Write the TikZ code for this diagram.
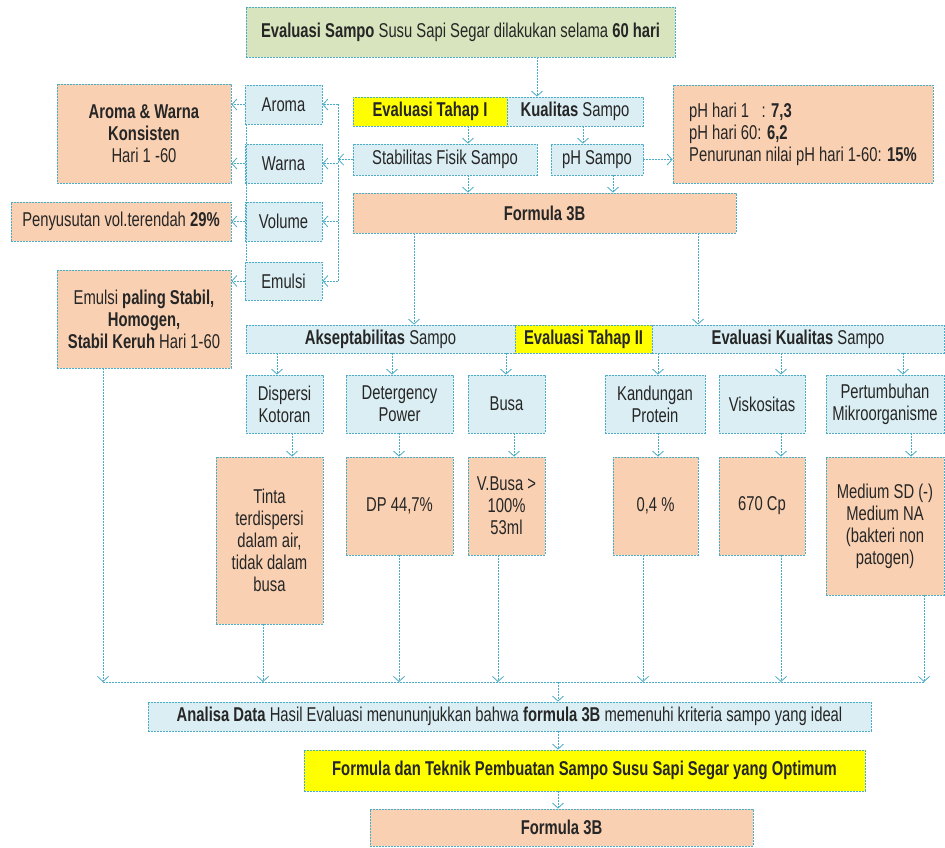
\documentclass[tikz,border=0pt]{standalone}
\usepackage{fontspec}
\setmainfont{Liberation Sans}[FakeStretch=0.74]
\usetikzlibrary{arrows.meta,calc}
\definecolor{bl}{HTML}{DAEEF3}
\definecolor{orn}{HTML}{F9D0B2}
\definecolor{grn}{HTML}{D7E4BD}
\definecolor{yel}{HTML}{FFFF00}
\definecolor{edge}{HTML}{4BACC6}
\definecolor{txt}{HTML}{262626}
\newcommand\bx[7]{%
  \node[#1, minimum width={(#5-#3)*1pt}, minimum height={(#6-#4)*1pt}] (#2) at ({(#3+#5)/2},{(#4+#6)/2}) {#7};}
\begin{document}
\begin{tikzpicture}[x=1pt,y=-1pt,
  box/.style={draw=edge, line width=0.8pt, dash pattern=on 2pt off 1pt, inner sep=0pt, align=center, text=txt, font=\fontsize{20}{22}\selectfont},
  bbox/.style={box, fill=bl},
  obox/.style={box, fill=orn},
  gbox/.style={box, fill=grn},
  ybox/.style={box, fill=yel},
  ln/.style={draw=edge, line width=0.8pt, dash pattern=on 2pt off 1pt},
  arr/.style={ln, -{Straight Barb[length=5pt,width=11pt]}}]
\useasboundingbox[fill=white] (0,0) rectangle (945,848);
\foreach \v in {537,468,583,613,338,414,698,277,392,506,658,781,903,292,399,514,911,103,263,498,643,924,558}
  \coordinate (x\v) at (\v,0);
% top
\bx{gbox}{top}{246}{7}{675}{57}{\textbf{Evaluasi Sampo} Susu Sapi Segar dilakukan selama \textbf{60 hari}}
\bx{ybox}{tahap1}{353}{97}{507}{126}{\textbf{Evaluasi Tahap I}}
\bx{bbox}{kual}{507}{97}{643}{126}{\textbf{Kualitas} Sampo}
\bx{bbox}{stab}{353}{144}{537}{175}{Stabilitas Fisik Sampo}
\bx{bbox}{ph}{551}{144}{643}{175}{pH Sampo}
\bx{obox,align=left}{phres}{673}{85}{933}{183}{pH hari 1 \ \ : \textbf{7,3}\\pH hari 60: \textbf{6,2}\\Penurunan nilai pH hari 1-60: \textbf{15\%}}
\bx{obox}{f3b}{353}{193}{736}{233}{\textbf{Formula 3B}}
% left
\bx{bbox}{aroma}{245}{85}{322}{124}{Aroma}
\bx{bbox}{warna}{245}{144}{322}{183}{Warna}
\bx{bbox}{volume}{245}{202}{322}{241}{Volume}
\bx{bbox}{emulsi}{245}{262}{322}{300}{Emulsi}
\bx{obox}{rAW}{57}{84}{231}{183}{\textbf{Aroma \& Warna}\\\textbf{Konsisten}\\Hari 1 -60}
\bx{obox}{rVol}{11}{202}{231}{241}{Penyusutan vol.terendah \textbf{29\%}}
\bx{obox}{rEm}{57}{270}{231}{368}{Emulsi \textbf{paling Stabil,}\\\textbf{Homogen,}\\\textbf{Stabil Keruh} Hari 1-60}
% stage II bar
\bx{bbox}{aksep}{246}{325}{515}{353}{\textbf{Akseptabilitas} Sampo}
\bx{ybox}{tahap2}{515}{325}{652}{353}{\textbf{Evaluasi Tahap II}}
\bx{bbox}{evk}{652}{325}{944}{353}{\textbf{Evaluasi Kualitas} Sampo}
% sub boxes
\bx{bbox}{disp}{246}{375}{323}{433}{Dispersi\\Kotoran}
\bx{bbox}{det}{346}{375}{453}{433}{Detergency\\Power}
\bx{bbox}{busa}{468}{375}{545}{433}{Busa}
\bx{bbox}{kand}{605}{375}{705}{433}{Kandungan\\Protein}
\bx{bbox}{visk}{719}{375}{805}{433}{Viskositas}
\bx{bbox}{pert}{826}{375}{944}{433}{Pertumbuhan\\Mikroorganisme}
% results
\bx{obox}{tinta}{216}{457}{323}{624}{Tinta\\terdispersi\\dalam air,\\tidak dalam\\busa}
\bx{obox}{dp}{346}{457}{453}{555}{DP 44,7\%}
\bx{obox}{vb}{468}{457}{545}{555}{V.Busa >\\100\%\\53ml}
\bx{obox}{prot}{613}{457}{698}{555}{0,4 \%}
\bx{obox}{vis}{719}{457}{805}{555}{670 Cp}
\bx{obox}{med}{826}{457}{944}{595}{Medium SD (-)\\Medium NA\\(bakteri non\\patogen)}
% bottom
\bx{bbox}{analisa}{148}{702}{871}{731}{\textbf{Analisa Data} Hasil Evaluasi menununjukkan bahwa \textbf{formula 3B} memenuhi kriteria sampo yang ideal}
\bx{ybox}{fin}{304}{750}{865}{791}{\textbf{Formula dan Teknik Pembuatan Sampo Susu Sapi Segar yang Optimum}}
\bx{obox}{f3bb}{370}{809}{753}{846}{\textbf{Formula 3B}}
\coordinate (busL) at (103,682);
\coordinate (busR) at (924,682);
% connectors top
\draw[arr] (top.south -| x537) -- (kual.north -| x537);
\draw[arr] (tahap1.south -| x468) -- (stab.north -| x468);
\draw[arr] (kual.south -| x583) -- (ph.north -| x583);
\draw[arr] (stab.south -| x468) -- (f3b.north -| x468);
\draw[arr] (ph.south -| x613) -- (f3b.north -| x613);
\draw[arr] (ph.east) -- (phres.west |- ph.east);
% left bus
\draw[arr] (stab.west) -- (x338 |- stab.west);
\draw[ln] (x338 |- aroma.east) -- (x338 |- emulsi.east);
\draw[arr] (x338 |- aroma.east) -- (aroma.east);
\draw[arr] (x338 |- warna.east) -- (warna.east);
\draw[arr] (x338 |- volume.east) -- (volume.east);
\draw[arr] (x338 |- emulsi.east) -- (emulsi.east);
\draw[ln] ([xshift=2pt]aroma.south west) -- ([xshift=2pt]emulsi.north west);
\draw[arr] (aroma.west) -- (rAW.east |- aroma.west);
\draw[arr] (warna.west) -- (rAW.east |- warna.west);
\draw[arr] (volume.west) -- (rVol.east);
\draw[arr] (emulsi.west) -- (rEm.east |- emulsi.west);
% to stage II
\draw[arr] (f3b.south -| x414) -- (aksep.north -| x414);
\draw[arr] (f3b.south -| x698) -- (evk.north -| x698);
\draw[arr] (aksep.south -| x277) -- (disp.north -| x277);
\draw[arr] (aksep.south -| x392) -- (det.north -| x392);
\draw[arr] (aksep.south -| x506) -- (busa.north -| x506);
\draw[arr] (evk.south -| x658) -- (kand.north -| x658);
\draw[arr] (evk.south -| x781) -- (visk.north -| x781);
\draw[arr] (evk.south -| x903) -- (pert.north -| x903);
\draw[arr] (disp.south -| x292) -- (tinta.north -| x292);
\draw[arr] (det.south -| x399) -- (dp.north -| x399);
\draw[arr] (busa.south -| x514) -- (vb.north -| x514);
\draw[arr] (kand.south -| x658) -- (prot.north -| x658);
\draw[arr] (visk.south -| x781) -- (vis.north -| x781);
\draw[arr] (pert.south -| x911) -- (med.north -| x911);
% to bus
\draw[ln] (busL) -- (busR);
\draw[arr] (rEm.south -| x103) -- (busL);
\draw[arr] (tinta.south -| x263) -- (x263 |- busL);
\draw[arr] (dp.south -| x399) -- (x399 |- busL);
\draw[arr] (vb.south -| x498) -- (x498 |- busL);
\draw[arr] (prot.south -| x643) -- (x643 |- busL);
\draw[arr] (vis.south -| x781) -- (x781 |- busL);
\draw[arr] (med.south -| x924) -- (busR);
% bottom
\draw[arr] (x558 |- busL) -- (analisa.north -| x558);
\draw[arr] (analisa.south -| x558) -- (fin.north -| x558);
\draw[arr] (fin.south -| x558) -- (f3bb.north -| x558);
\end{tikzpicture}
\end{document}
